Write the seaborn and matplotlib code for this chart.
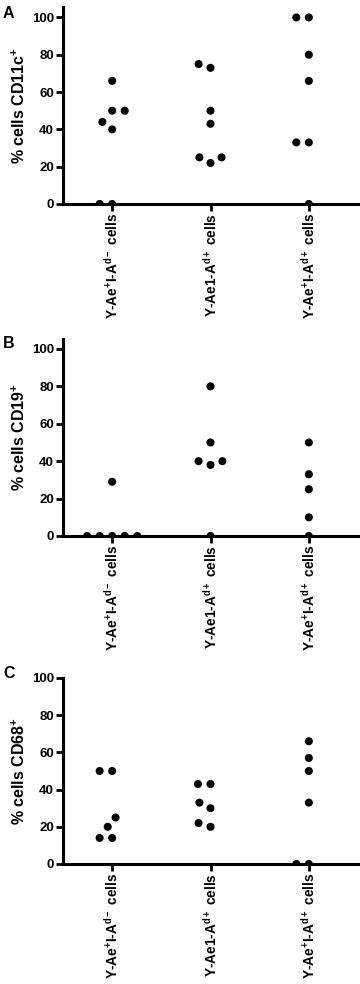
import numpy as np
import pandas as pd
import matplotlib
matplotlib.use("Agg")
import matplotlib.pyplot as plt
import seaborn as sns

# ---- data ----
groups = ["Y-Ae$^{+}$I-A$^{d-}$ cells", "Y-Ae1-A$^{d+}$ cells", "Y-Ae$^{+}$I-A$^{d+}$ cells"]

cd11c_g1 = [66, 50, 50, 44, 40, 0, 0]
cd11c_g2 = [75, 73, 50, 43, 25, 22, 25]
cd11c_g3 = [100, 100, 80, 66, 33, 33, 0]

cd19_g1 = [29, 0, 0, 0, 0, 0]
cd19_g2 = [80, 50, 40, 38, 40, 0]
cd19_g3 = [50, 33, 25, 10, 0]

cd68_g1 = [50, 50, 25, 20, 14, 14]
cd68_g2 = [43, 43, 33, 30, 20, 22]
cd68_g3 = [66, 57, 50, 33, 0, 0]

panel_letters = ["A", "B", "C"]
ylabels = ["% cells CD11c$^{+}$", "% cells CD19$^{+}$", "% cells CD68$^{+}$"]
yticks = [0, 20, 40, 60, 80, 100]

panels = [
    [cd11c_g1, cd11c_g2, cd11c_g3],
    [cd19_g1, cd19_g2, cd19_g3],
    [cd68_g1, cd68_g2, cd68_g3],
]

# ---- style ----
sns.set_theme(style="ticks")
plt.rcParams["font.family"] = ["Liberation Sans", "DejaVu Sans"]
plt.rcParams["font.weight"] = "bold"
plt.rcParams["axes.labelweight"] = "bold"
plt.rcParams["text.color"] = "black"
plt.rcParams["axes.labelcolor"] = "black"
plt.rcParams["xtick.color"] = "black"
plt.rcParams["ytick.color"] = "black"
plt.rcParams["mathtext.fontset"] = "custom"
plt.rcParams["mathtext.rm"] = "Liberation Sans:bold"
plt.rcParams["mathtext.it"] = "Liberation Sans:bold"
plt.rcParams["mathtext.bf"] = "Liberation Sans:bold"
plt.rcParams["mathtext.default"] = "rm"

W, H = 360, 984
fig = plt.figure(figsize=(W / 100, H / 100), dpi=100)

# axes boxes in pixel coordinates (top, bottom), y upper limit, panel-letter centre
boxes = [(7, 204, 105.6, 14), (339, 536, 105.3, 344), (678, 864, 100, 673)]
left_px, right_px = 63, 358

for i, (vals, (top, bot, ytop, let_y)) in enumerate(zip(panels, boxes)):
    ax = fig.add_axes([left_px / W, 1 - bot / H, (right_px - left_px) / W, (bot - top) / H])
    df = pd.DataFrame({
        "group": np.concatenate([[g] * len(v) for g, v in zip(groups, vals)]),
        "value": np.concatenate(vals),
    })
    sns.swarmplot(data=df, x="group", y="value", order=groups, ax=ax,
                  color="black", size=5.8, linewidth=2.8, edgecolor="none")
    ax.set_xlim(-0.5, 2.5)
    ax.set_ylim(0, ytop)
    ax.set_yticks(yticks)
    ax.set_xlabel("")
    ax.set_ylabel(ylabels[i], fontsize=11.5, fontweight="bold", labelpad=3)
    sns.despine(ax=ax)
    for s in ["left", "bottom"]:
        ax.spines[s].set_linewidth(2.2)
        ax.spines[s].set_color("black")
    ax.tick_params(axis="both", length=5, width=2, color="black",
                   labelsize=9.5, pad=1.5, labelcolor="black")
    ax.set_xticks(range(len(groups)))
    ax.set_xticklabels(groups, rotation=90, fontweight="bold", fontsize=9.8)
    for lab in ax.get_yticklabels():
        lab.set_fontweight("bold")
    fig.text(3 / W, 1 - let_y / H, panel_letters[i], fontsize=11.5,
             fontweight="bold", ha="left", va="center")

fig.savefig("out.png", dpi=100)
